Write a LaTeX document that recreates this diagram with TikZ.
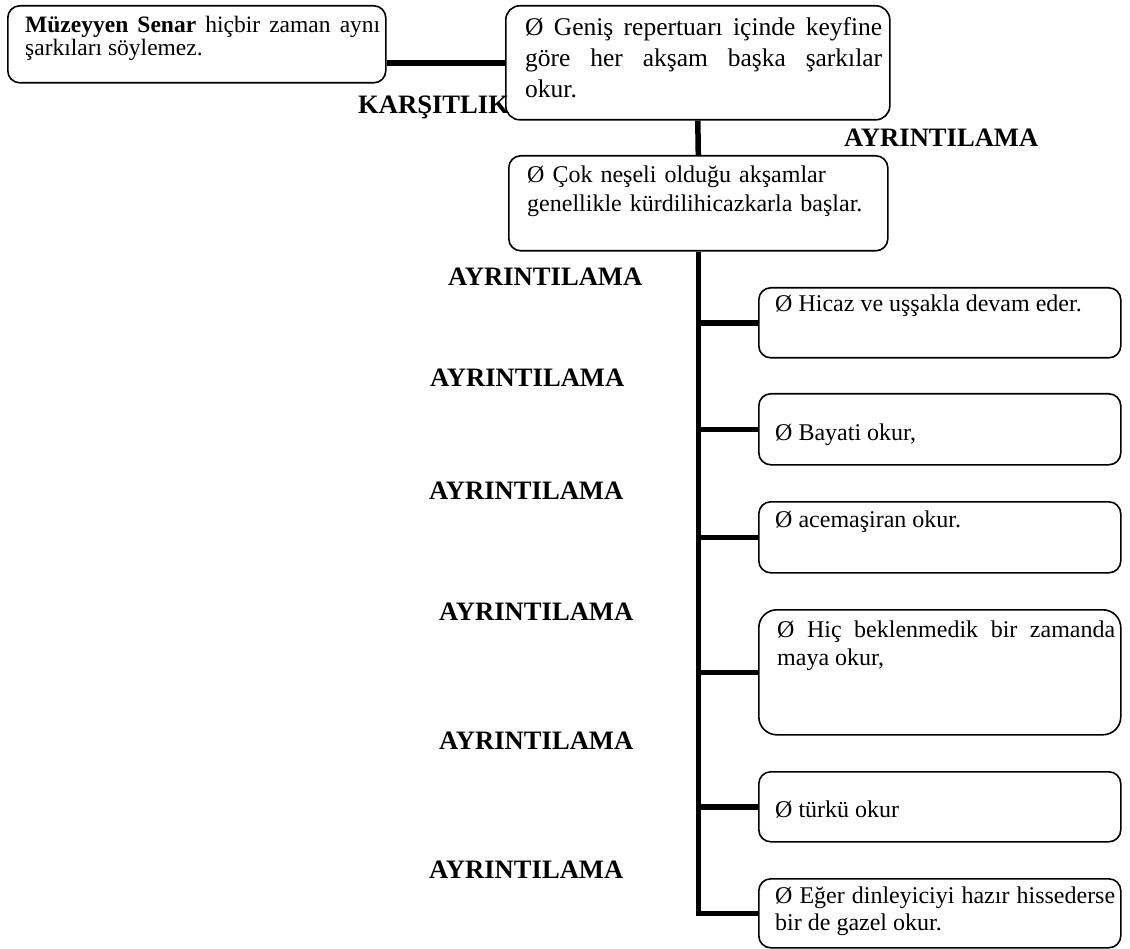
\documentclass[tikz,border=0pt]{standalone}
\usepackage{fontspec}
\setmainfont{Liberation Serif}
\lineskiplimit=-100pt
\tolerance=10000
\hyphenpenalty=10000
\tikzset{
  box/.style={draw, line width=1.6pt, rounded corners=12pt, inner sep=0pt, anchor=north west},
  txt/.style={anchor=base west, inner sep=0pt, font=\fontsize{24}{28}\selectfont},
  jtxt/.style={txt, align=justify},
  lab/.style={anchor=base west, inner sep=0pt, font=\bfseries\fontsize{26.6}{30}\selectfont},
  conn/.style={line width=5.5pt}
}
\begin{document}
\begin{tikzpicture}[x=1pt, y=-1pt]
\useasboundingbox (0,0) rectangle (1130,949);
% boxes
\node (A) [box, minimum width=378pt, minimum height=77pt] at (7,5) {};
\node (B) [box, rounded corners=14pt, minimum width=384pt, minimum height=114pt] at (505,5) {};
\node (C) [box, minimum width=379pt, minimum height=95pt] at (508,155) {};
\node (D) [box, minimum width=362pt, minimum height=70pt] at (758,287) {};
\node (E) [box, minimum width=362pt, minimum height=71pt] at (758,393) {};
\node (F) [box, minimum width=362pt, minimum height=71pt] at (758,501) {};
\node (G) [box, rounded corners=18pt, minimum width=362pt, minimum height=125pt] at (758,609) {};
\node (H) [box, minimum width=362pt, minimum height=70pt] at (758,771) {};
\node (I) [box, minimum width=362pt, minimum height=69pt] at (758,878) {};
% texts
\node (tA) [jtxt, text width=355pt, font=\fontsize{23.5}{19}\selectfont] at (25,33)
  {{\bfseries Müzeyyen Senar} hiçbir zaman aynı\linebreak şarkıları söylemez.};
\node (tB) [jtxt, text width=357pt, font=\fontsize{25.5}{31}\selectfont] at (525,36)
  {Ø Geniş repertuarı içinde keyfine\linebreak göre her akşam başka şarkılar\linebreak okur.};
\node (tC) [txt, text width=352pt, align=left, font=\fontsize{24}{29}\selectfont] at (527,183)
  {Ø Çok neşeli olduğu akşamlar\\genellikle kürdilihicazkarla başlar.};
\node (tD) [txt] at (775,312) {Ø Hicaz ve uşşakla devam eder.};
\node (tE) [txt] at (775,440) {Ø Bayati okur,};
\node (tF) [txt] at (775,527) {Ø acemaşiran okur.};
\node (tG) [jtxt, text width=338pt] at (777,637)
  {Ø Hiç beklenmedik bir zamanda\linebreak maya okur,};
\node (tH) [txt] at (775,817) {Ø türkü okur};
\node (tI) [jtxt, text width=340pt, font=\fontsize{24}{27}\selectfont] at (775,903)
  {Ø Eğer dinleyiciyi hazır hissederse\linebreak bir de gazel okur.};
% labels
\node (l0) [lab] at (358,114) {KARŞITLIK};
\node (l1) [lab] at (844,147) {AYRINTILAMA};
\node (l2) [lab] at (448,286) {AYRINTILAMA};
\node (l3) [lab] at (430,387) {AYRINTILAMA};
\node (l4) [lab] at (429,499) {AYRINTILAMA};
\node (l5) [lab] at (439,620) {AYRINTILAMA};
\node (l6) [lab] at (439,749) {AYRINTILAMA};
\node (l7) [lab] at (429,878) {AYRINTILAMA};
% connectors
\draw[conn] (A.east |- B.west) -- (B.west);
\draw[conn] (B.south) -- (C.north);
\draw[conn] (C.south) -- (C.south |- I.west) -- (I.west);
\draw[conn] (C.south |- D.west) -- (D.west);
\draw[conn] (C.south |- E.west) -- (E.west);
\draw[conn] (C.south |- F.west) -- (F.west);
\draw[conn] (C.south |- G.west) -- (G.west);
\draw[conn] (C.south |- H.west) -- (H.west);
\end{tikzpicture}
\end{document}
